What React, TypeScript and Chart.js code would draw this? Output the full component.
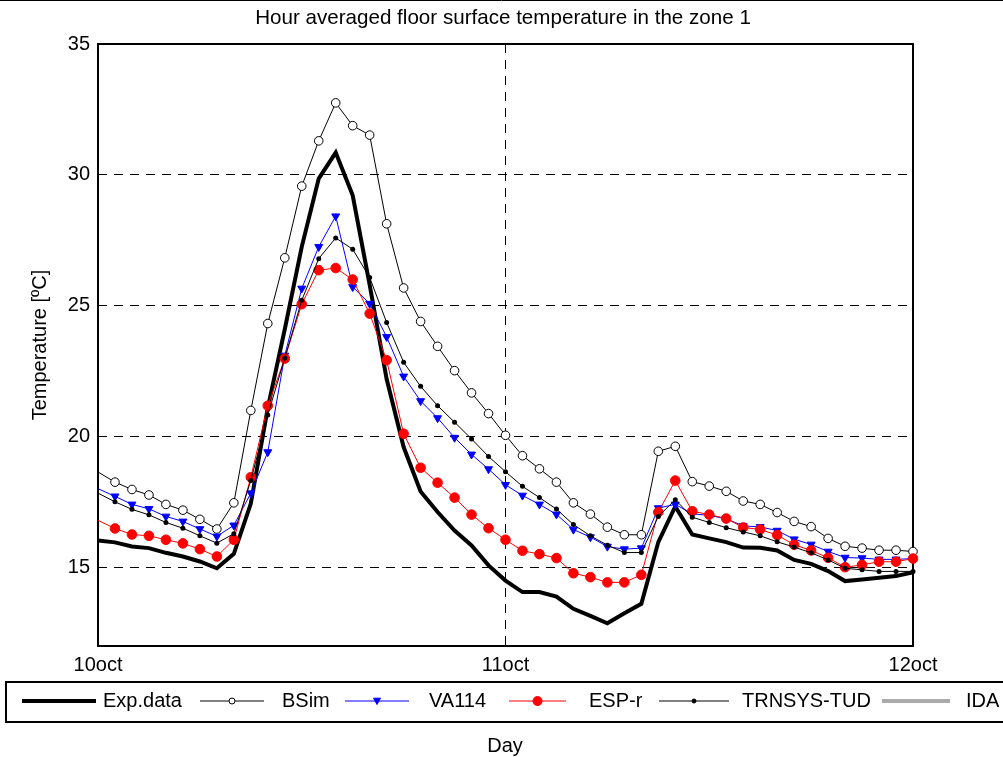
import React, { useEffect, useRef } from 'react';
import { Chart, registerables } from 'chart.js';

Chart.register(...registerables);

// ---- data ----
const HOURS = Array.from({ length: 49 }, (_, i) => i); // hourly steps from 10oct 00:00 to 12oct 00:00
const DAY_TICKS = [0, 24, 48];
const DAY_LABELS = ['10oct', '11oct', '12oct'];
const Y_TICKS = [15, 20, 25, 30, 35];

const EXP_DATA = [
  16.03, 15.96, 15.8, 15.74, 15.56, 15.42, 15.23, 14.97, 15.52, 17.44,
  21.1, 24.1, 27.25, 29.86, 30.85, 29.22, 25.8, 22.2, 19.6, 17.9,
  17.12, 16.41, 15.84, 15.08, 14.5, 14.06, 14.06, 13.89, 13.42, 13.15,
  12.87, 13.25, 13.61, 15.97, 17.33, 16.26, 16.11, 15.97, 15.76, 15.75,
  15.65, 15.29, 15.14, 14.86, 14.48, 14.54, 14.61, 14.67, 14.82,
];
const BSIM = [
  18.65, 18.26, 17.98, 17.77, 17.41, 17.19, 16.84, 16.47, 17.47, 21.0,
  24.32, 26.83, 29.57, 31.3, 32.75, 31.88, 31.52, 28.13, 25.68, 24.4,
  23.45, 22.52, 21.67, 20.88, 20.05, 19.27, 18.77, 18.26, 17.47, 17.04,
  16.54, 16.25, 16.25, 19.44, 19.63, 18.28, 18.11, 17.91, 17.54, 17.41,
  17.1, 16.76, 16.56, 16.11, 15.81, 15.74, 15.66, 15.66, 15.61,
];
const VA114 = [
  18.01, 17.72, 17.41, 17.24, 16.95, 16.76, 16.47, 16.19, 16.61, 17.84,
  19.41, 23.1, 25.66, 27.25, 28.42, 25.72, 25.08, 23.81, 22.3, 21.36,
  20.71, 19.96, 19.32, 18.76, 18.16, 17.75, 17.41, 17.03, 16.45, 16.16,
  15.8, 15.7, 15.74, 17.27, 17.41, 17.05, 16.99, 16.86, 16.59, 16.55,
  16.41, 16.08, 15.88, 15.61, 15.38, 15.36, 15.31, 15.31, 15.34,
];
const ESP_R = [
  16.8, 16.49, 16.26, 16.21, 16.06, 15.92, 15.7, 15.42, 16.06, 18.45,
  21.18, 22.98, 25.06, 26.36, 26.44, 26.0, 24.7, 22.92, 20.11, 18.81,
  18.24, 17.67, 17.02, 16.5, 16.06, 15.64, 15.51, 15.36, 14.78, 14.63,
  14.43, 14.43, 14.72, 17.11, 18.32, 17.15, 17.02, 16.87, 16.53, 16.45,
  16.24, 15.87, 15.65, 15.37, 15.01, 15.1, 15.22, 15.22, 15.34,
];
const TRNSYS_TUD = [
  17.84, 17.51, 17.22, 17.01, 16.72, 16.5, 16.21, 15.93, 16.29, 18.32,
  20.83, 23.0, 25.21, 26.8, 27.59, 27.16, 26.08, 24.36, 22.84, 21.92,
  21.18, 20.55, 19.91, 19.24, 18.66, 18.1, 17.67, 17.23, 16.64, 16.21,
  15.85, 15.57, 15.57, 16.95, 17.59, 16.92, 16.72, 16.52, 16.36, 16.21,
  15.98, 15.78, 15.56, 15.29, 14.97, 14.91, 14.85, 14.85, 14.85,
];
const IDA: number[] = [];

const FONT = "'Liberation Sans', Arial, sans-serif";

const toXY = (vals: number[]) => vals.map((v, i) => ({ x: HOURS[i], y: v }));
const radiusSkipFirst = (r: number) => (c: any) => (c.dataIndex === 0 ? 0 : r);

// legend layout: [lineStart, lineEnd, textX]
const LEGEND_SLOTS = [
  [22, 96, 103],
  [200, 264, 282],
  [345, 409, 429],
  [509, 566, 589],
  [659, 729, 742],
  [882, 950, 966],
];
const LEGEND_MARKERS: any[] = [
  null,
  { style: 'circle', r: 3, fill: '#fff', stroke: '#000' },
  { style: 'triangle', r: 3.5, fill: '#0000ff', stroke: '#0000ff' },
  { style: 'circle', r: 4.5, fill: '#ff0000', stroke: '#ff0000' },
  { style: 'circle', r: 2, fill: '#000', stroke: '#000' },
  null,
];

const framePlugin = {
  id: 'framePlugin',
  beforeDatasetsDraw(chart: any) {
    const { ctx, chartArea } = chart;
    ctx.save();
    ctx.strokeStyle = '#000';
    ctx.lineWidth = 2;
    ctx.strokeRect(chartArea.left, chartArea.top, chartArea.right - chartArea.left, chartArea.bottom - chartArea.top);
    ctx.restore();
  },
  afterDraw(chart: any) {
    const { ctx, width, chartArea } = chart;
    ctx.save();
    // top rule
    ctx.strokeStyle = '#000';
    ctx.lineWidth = 1;
    ctx.beginPath();
    ctx.moveTo(0, 0.5);
    ctx.lineTo(width, 0.5);
    ctx.stroke();

    ctx.fillStyle = '#000';
    ctx.textAlign = 'center';
    ctx.textBaseline = 'middle';
    ctx.font = `20.6px ${FONT}`;
    ctx.fillText('Hour averaged floor surface temperature in the zone 1', 503, 18);
    ctx.font = `20px ${FONT}`;
    ctx.fillText('Day', 505, 746);

    ctx.save();
    ctx.translate(40, (chartArea.top + chartArea.bottom) / 2);
    ctx.rotate(-Math.PI / 2);
    ctx.fillText('Temperature [ºC]', 0, 0);
    ctx.restore();

    // legend box
    ctx.lineWidth = 2;
    ctx.strokeStyle = '#000';
    ctx.strokeRect(6, 682, width + 10, 40);
    const ly = 701;
    chart.data.datasets.forEach((ds: any, i: number) => {
      const [x0, x1, tx] = LEGEND_SLOTS[i];
      ctx.strokeStyle = ds.borderColor;
      ctx.lineWidth = ds.borderWidth;
      ctx.beginPath();
      ctx.moveTo(x0, ly);
      ctx.lineTo(x1, ly);
      ctx.stroke();
      const m = LEGEND_MARKERS[i];
      if (m) {
        const cx = (x0 + x1) / 2;
        ctx.fillStyle = m.fill;
        ctx.strokeStyle = m.stroke;
        ctx.lineWidth = 1;
        ctx.beginPath();
        if (m.style === 'circle') {
          ctx.arc(cx, ly, m.r, 0, Math.PI * 2);
        } else {
          ctx.moveTo(cx - m.r, ly - m.r * 0.8);
          ctx.lineTo(cx + m.r, ly - m.r * 0.8);
          ctx.lineTo(cx, ly + m.r);
          ctx.closePath();
        }
        ctx.fill();
        ctx.stroke();
      }
      ctx.fillStyle = '#000';
      ctx.textAlign = 'left';
      ctx.fillText(ds.label, tx, ly);
    });
    ctx.restore();
  },
};

export default function App() {
  const ref = useRef<HTMLCanvasElement | null>(null);
  useEffect(() => {
    if (!ref.current) return;
    const chart = new Chart(ref.current, {
      type: 'line',
      data: {
        datasets: [
          {
            label: 'Exp.data',
            data: toXY(EXP_DATA),
            borderColor: '#000',
            borderWidth: 4,
            pointRadius: 0,
            order: 6,
          },
          {
            label: 'BSim',
            data: toXY(BSIM),
            borderColor: '#000',
            borderWidth: 1,
            pointStyle: 'circle',
            pointRadius: radiusSkipFirst(4.3),
            pointBackgroundColor: '#fff',
            pointBorderColor: '#000',
            pointBorderWidth: 1,
            order: 5,
          },
          {
            label: 'VA114',
            data: toXY(VA114),
            borderColor: '#0000ff',
            borderWidth: 1,
            pointStyle: 'triangle',
            rotation: 180,
            pointRadius: radiusSkipFirst(4.6),
            pointBackgroundColor: '#0000ff',
            pointBorderColor: '#0000ff',
            pointBorderWidth: 1,
            order: 4,
          },
          {
            label: 'ESP-r',
            data: toXY(ESP_R),
            borderColor: '#ff0000',
            borderWidth: 1,
            pointStyle: 'circle',
            pointRadius: radiusSkipFirst(4.8),
            pointBackgroundColor: '#ff0000',
            pointBorderColor: '#ff0000',
            pointBorderWidth: 1,
            order: 3,
          },
          {
            label: 'TRNSYS-TUD',
            data: toXY(TRNSYS_TUD),
            borderColor: '#000',
            borderWidth: 1,
            pointStyle: 'circle',
            pointRadius: radiusSkipFirst(2.5),
            pointBackgroundColor: '#000',
            pointBorderColor: '#000',
            pointBorderWidth: 0,
            order: 2,
          },
          {
            label: 'IDA',
            data: toXY(IDA),
            borderColor: '#aaaaaa',
            borderWidth: 4,
            pointRadius: 0,
            order: 1,
          },
        ] as any,
      },
      options: {
        responsive: false,
        animation: false,
        devicePixelRatio: 1,
        events: [],
        layout: { padding: { left: 0, right: 90, top: 44, bottom: 81 } },
        elements: { line: { tension: 0 } },
        datasets: { line: { clip: false as any } },
        plugins: {
          legend: { display: false },
          tooltip: { enabled: false },
          title: { display: false },
        },
        scales: {
          x: {
            type: 'linear',
            min: 0,
            max: 48,
            afterBuildTicks: (s: any) => {
              s.ticks = DAY_TICKS.map((v) => ({ value: v }));
            },
            afterFit: (s: any) => {
              s.height = 30;
            },
            ticks: {
              autoSkip: false,
              maxRotation: 0,
              padding: 7,
              color: '#000',
              font: { family: FONT, size: 20 },
              callback: (v: any) => {
                const k = DAY_TICKS.indexOf(Number(v));
                return k >= 0 ? DAY_LABELS[k] : '';
              },
            },
            grid: {
              drawTicks: false,
              lineWidth: 1,
              color: (c: any) => (c.tick && c.tick.value === 24 ? '#000' : 'rgba(0,0,0,0)'),
            },
            border: { display: false, dash: [9, 7] },
          },
          y: {
            min: 12,
            max: 35,
            afterBuildTicks: (s: any) => {
              s.ticks = Y_TICKS.map((v) => ({ value: v }));
            },
            afterFit: (s: any) => {
              s.width = 98;
            },
            ticks: {
              padding: 8,
              color: '#000',
              font: { family: FONT, size: 20 },
            },
            grid: {
              drawTicks: false,
              lineWidth: 1,
              color: (c: any) => (c.tick && c.tick.value < 35 ? '#000' : 'rgba(0,0,0,0)'),
            },
            border: { display: false, dash: [9, 7] },
          },
        },
      } as any,
      plugins: [framePlugin],
    });
    return () => chart.destroy();
  }, []);

  return (
    <div style={{ position: 'absolute', left: 0, top: 0, width: 1003, height: 757, background: '#fff' }}>
      <canvas ref={ref} width={1003} height={757} style={{ display: 'block' }} />
    </div>
  );
}
